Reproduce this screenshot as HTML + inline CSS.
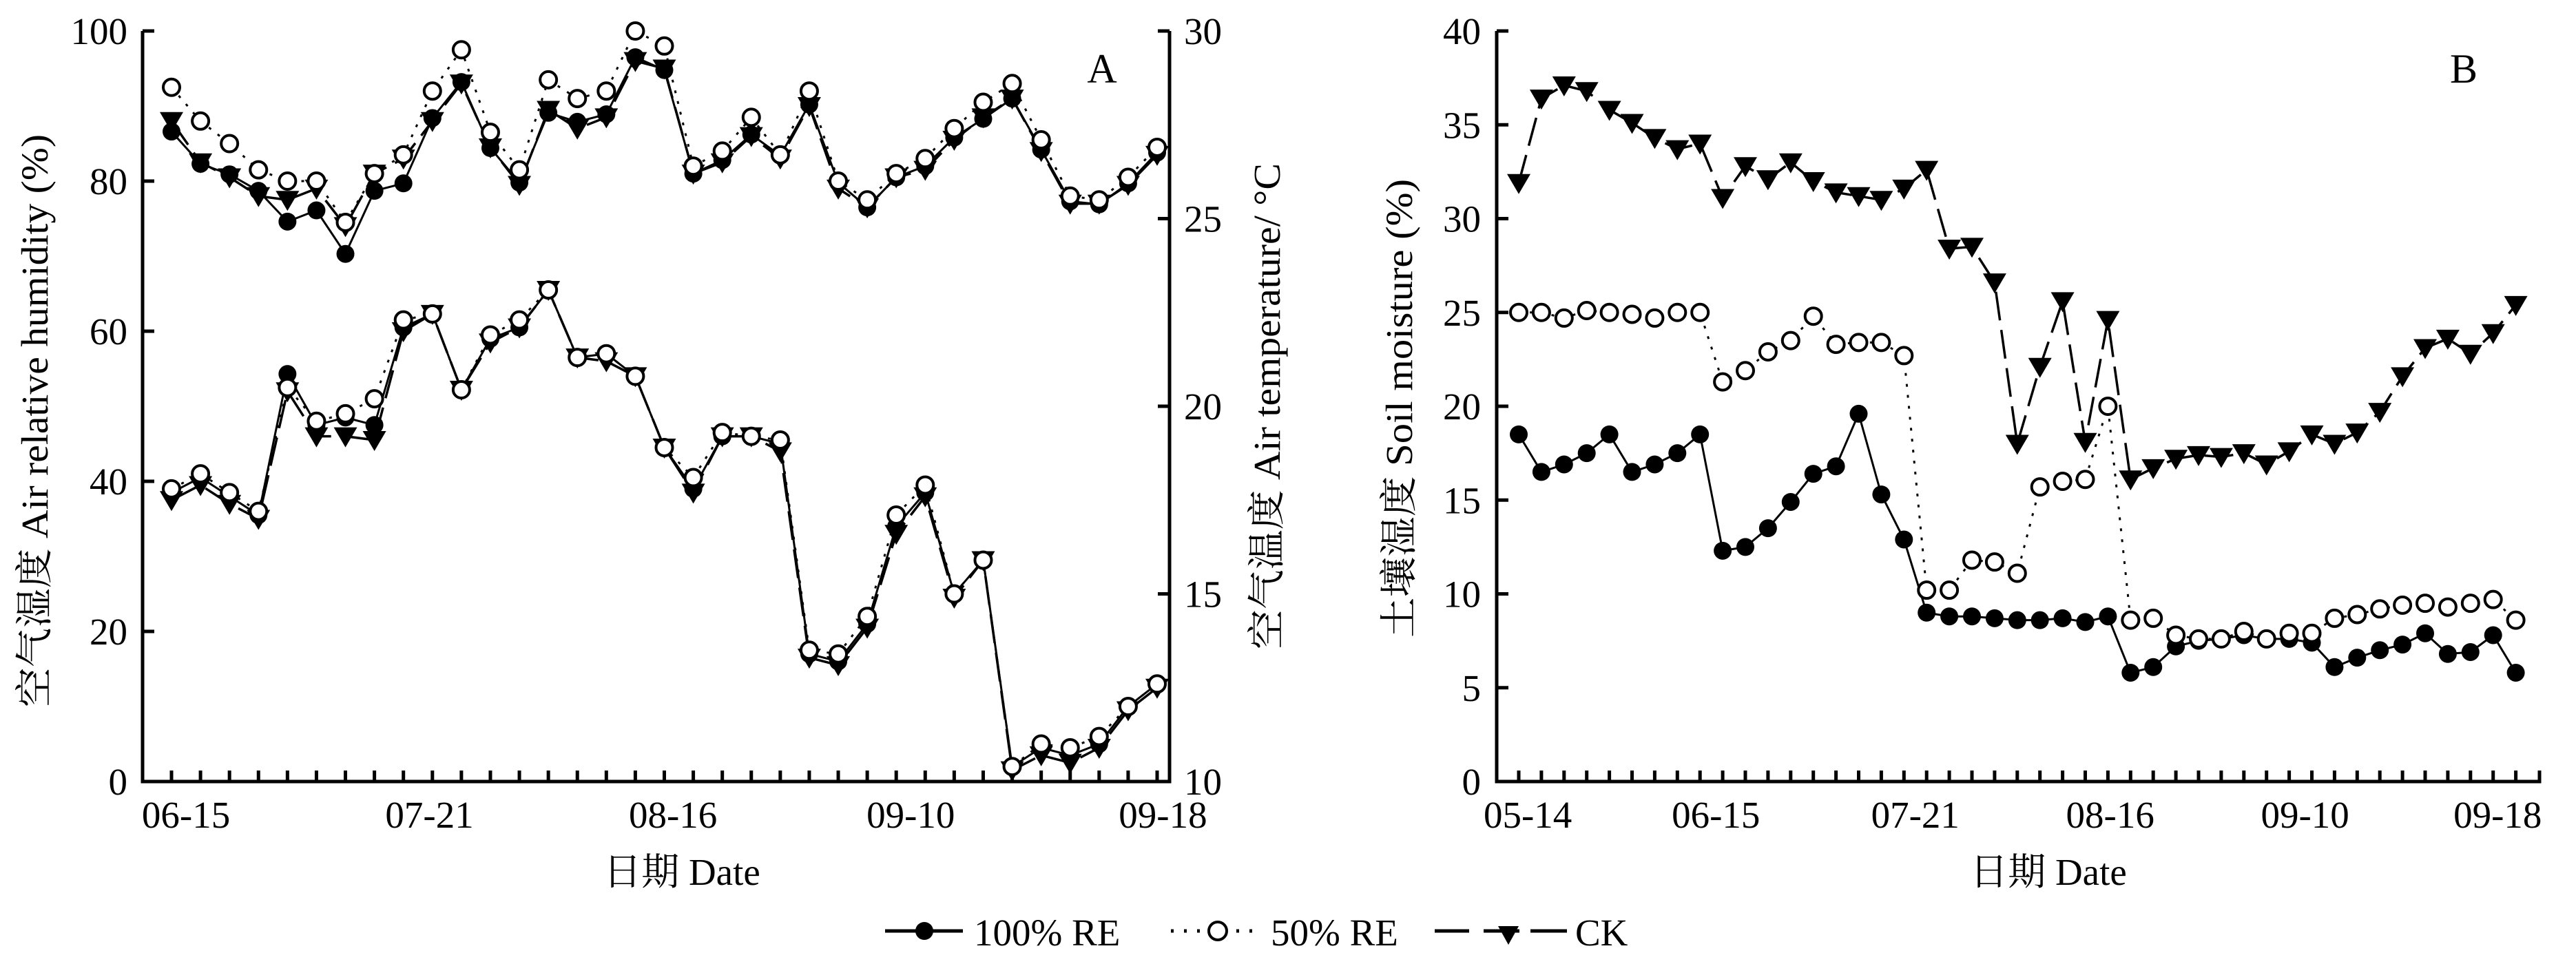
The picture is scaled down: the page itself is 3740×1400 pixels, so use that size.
<!DOCTYPE html>
<html><head><meta charset="utf-8"><style>
html,body{margin:0;padding:0;background:#fff;}
svg{display:block;}
svg text{font-family:"Liberation Serif","Noto Serif CJK SC",serif;}
</style></head><body>
<svg id="chart" width="3740" height="1400" viewBox="0 0 3740 1400" xmlns="http://www.w3.org/2000/svg">
<rect width="3740" height="1400" fill="#fff"/>
</svg>
<script>
// Panel A data
const rhRE100 = [86.6,82.3,80.9,78.7,74.6,76.1,70.3,78.7,79.7,88.4,93.2,84.4,79.8,89.1,87.9,88.9,96.5,94.8,81,82.8,86.2,83.4,90.2,79.8,76.5,80.5,82,85.8,88.3,91,84.2,77.3,76.9,79.7,83.8];
const rhRE50 = [92.5,88,85,81.5,80,80,74.5,81,83.5,92,97.5,86.5,81.5,93.5,91,92,100,98,82,84,88.5,83.5,92,80,77.5,81,83,87,90.5,93,85.5,78,77.5,80.5,84.5];
const rhCK = [88,82.5,80.5,78,77.5,79,74,81,83,88,93,84.5,79.5,89.5,87,88.5,96,95,81,82.5,86,83,90,79,76.5,80.5,81.5,85.5,88.5,91,84,77,77,79.5,83.5];
const tRE100 = [17.7,18.1,17.6,17.1,20.86,19.5,19.7,19.5,22.1,22.46,20.44,21.8,22.1,23.1,21.3,21.4,20.8,18.9,17.8,19.2,19.2,19.0,13.4,13.2,14.2,16.8,17.7,15.0,15.9,10.4,10.9,10.7,11.0,12.0,12.6];
const tRE50 = [17.8,18.2,17.7,17.2,20.5,19.6,19.8,20.2,22.3,22.46,20.44,21.9,22.3,23.1,21.3,21.4,20.8,18.9,18.1,19.3,19.2,19.1,13.5,13.4,14.4,17.1,17.9,15.0,15.9,10.4,11.0,10.9,11.2,12.0,12.6];
const tCK = [17.5,17.9,17.4,17.0,20.4,19.2,19.2,19.1,22.0,22.46,20.44,21.7,22.1,23.1,21.3,21.2,20.8,18.9,17.7,19.2,19.2,18.8,13.3,13.1,14.1,16.6,17.6,14.9,15.9,10.3,10.7,10.5,10.9,11.9,12.5];
const xLabelsA = ["06-15","07-21","08-16","09-10","09-18"];
const xLabelPosA = [0.5,8.9,17.3,25.5,34.2];
const rhTicks = [0,20,40,60,80,100];
const tTicks = [10,15,20,25,30];
// Panel B data
const smRE100 = [18.5,16.5,16.9,17.5,18.5,16.5,16.9,17.5,18.5,12.3,12.5,13.5,14.9,16.4,16.8,19.6,15.3,12.9,9.0,8.8,8.8,8.7,8.6,8.6,8.7,8.5,8.8,5.8,6.1,7.2,7.5,7.6,7.8,7.6,7.6,7.4,6.1,6.6,7.0,7.3,7.9,6.8,6.9,7.8,5.8];
const smRE50 = [25,25,24.7,25.1,25,24.9,24.7,25,25,21.3,21.9,22.9,23.5,24.8,23.3,23.4,23.4,22.7,10.2,10.2,11.8,11.7,11.1,15.7,16,16.1,20,8.6,8.7,7.8,7.6,7.6,8,7.6,7.9,7.9,8.7,8.9,9.2,9.4,9.5,9.3,9.5,9.7,8.6];
const smCK = [31.9,36.4,37.1,36.8,35.8,35.1,34.3,33.7,34.0,31.1,32.8,32.1,33,32,31.4,31.2,31,31.6,32.6,28.4,28.5,26.6,18,22.1,25.6,18.1,24.6,16.1,16.7,17.2,17.4,17.3,17.5,16.9,17.6,18.5,18.0,18.6,19.7,21.6,23.1,23.6,22.8,23.9,25.4];
const xLabelsB = ["05-14","06-15","07-21","08-16","09-10","09-18"];
const xLabelPosB = [0.4,8.7,17.5,26.1,34.7,43.2];
const smTicks = [0,5,10,15,20,25,30,35,40];

const NS="http://www.w3.org/2000/svg";
const svg=document.getElementById('chart');
function mk(tag,attrs,parent){const e=document.createElementNS(NS,tag);for(const k in attrs)e.setAttribute(k,attrs[k]);(parent||svg).appendChild(e);return e;}

const Y0=1135;
const xA=i=>249+i*(1680-249)/34;
const yRH=v=>Y0-v*10.9;
const yT=t=>Y0-(t-10)*54.5;
const xB=i=>2205+i*32.9;
const yB=v=>Y0-v*27.25;

function drawSeries(vals,xf,yf,kind,name,g){
  const pts=vals.map((v,i)=>xf(i).toFixed(1)+','+yf(v).toFixed(1)).join(' ');
  const line=mk('polyline',{points:pts,fill:'none',stroke:'#000','stroke-width':kind==='ck'?3.5:3},g);
  if(kind==='open')line.setAttribute('stroke-dasharray','4 12');
  if(kind==='ck')line.setAttribute('stroke-dasharray','42 14');
  
  
  vals.forEach((v,i)=>{
    const x=xf(i),y=yf(v);let m;
    if(kind==='filled')m=mk('circle',{cx:x,cy:y,r:13,fill:'#000'},g);
    else if(kind==='open')m=mk('circle',{cx:x,cy:y,r:12,fill:'#fff',stroke:'#000','stroke-width':4},g);
    else m=mk('polygon',{points:`${x-17},${y-13} ${x+17},${y-13} ${x},${y+16}`,fill:'#000'},g);
    
    
  });
}

function text(str,attrs,name,g){const t=mk('text',Object.assign({'font-size':55,fill:'#000','font-family':'Liberation Serif, Noto Serif CJK SC, serif'},attrs),g);t.textContent=str;return t;}

// ---------- Panel A ----------
const gA=mk('g',{});


mk('path',{d:`M207,45 V${Y0} H1698 V45`,fill:'none',stroke:'#000','stroke-width':5},gA);
rhTicks.forEach(v=>{
  mk('line',{x1:207,x2:224,y1:yRH(v),y2:yRH(v),stroke:'#000','stroke-width':5},gA);
  text(String(v),{x:185,y:yRH(v)+19,'text-anchor':'end'},'y-tick-label-rh',gA);
});
tTicks.forEach(t=>{
  mk('line',{x1:1681,x2:1698,y1:yT(t),y2:yT(t),stroke:'#000','stroke-width':5},gA);
  text(String(t),{x:1719,y:yT(t)+19},'y-tick-label-temp',gA);
});
for(let i=0;i<35;i++)mk('line',{x1:xA(i),x2:xA(i),y1:Y0,y2:Y0-16,stroke:'#000','stroke-width':5},gA);
xLabelsA.forEach((l,k)=>text(l,{x:xA(xLabelPosA[k]),y:1202,'text-anchor':'middle'},'x-tick-label',gA));
text('日期 Date',{x:990,y:1285,'text-anchor':'middle'},'x-axis-title',gA);
text('空气湿度 Air relative humidity (%)',{x:0,y:0,transform:'translate(69,611) rotate(-90)','text-anchor':'middle',textLength:832,lengthAdjust:'spacingAndGlyphs'},'y-axis-title-left',gA);
text('空气温度 Air temperature/ °C',{x:0,y:0,transform:'translate(1858,590) rotate(-90)','text-anchor':'middle',textLength:706,lengthAdjust:'spacingAndGlyphs'},'y-axis-title-right',gA);
text('A',{x:1600,y:120,'text-anchor':'middle','font-size':60},'panel-label-a',gA);
drawSeries(tRE100,xA,yT,'filled','temp-100re',gA);
drawSeries(tCK,xA,yT,'ck','temp-ck',gA);
drawSeries(tRE50,xA,yT,'open','temp-50re',gA);
drawSeries(rhRE100,xA,yRH,'filled','rh-100re',gA);
drawSeries(rhCK,xA,yRH,'ck','rh-ck',gA);
drawSeries(rhRE50,xA,yRH,'open','rh-50re',gA);

// ---------- Panel B ----------
const gB=mk('g',{});


mk('path',{d:`M2173,45 V${Y0} H3687 V${Y0-16}`,fill:'none',stroke:'#000','stroke-width':5},gB);
smTicks.forEach(v=>{
  mk('line',{x1:2173,x2:2190,y1:yB(v),y2:yB(v),stroke:'#000','stroke-width':5},gB);
  text(String(v),{x:2150,y:yB(v)+19,'text-anchor':'end'},'y-tick-label-soil',gB);
});
for(let i=0;i<45;i++)mk('line',{x1:xB(i),x2:xB(i),y1:Y0,y2:Y0-16,stroke:'#000','stroke-width':5},gB);
xLabelsB.forEach((l,k)=>text(l,{x:xB(xLabelPosB[k]),y:1202,'text-anchor':'middle'},'x-tick-label',gB));
text('日期 Date',{x:2974,y:1285,'text-anchor':'middle'},'x-axis-title',gB);
text('土壤湿度 Soil moisture (%)',{x:0,y:0,transform:'translate(2050,593) rotate(-90)','text-anchor':'middle',textLength:666,lengthAdjust:'spacingAndGlyphs'},'y-axis-title-soil',gB);
text('B',{x:3577,y:120,'text-anchor':'middle','font-size':60},'panel-label-b',gB);
drawSeries(smCK,xB,yB,'ck','soil-ck',gB);
drawSeries(smRE100,xB,yB,'filled','soil-100re',gB);
drawSeries(smRE50,xB,yB,'open','soil-50re',gB);

// ---------- Legend ----------
const gL=mk('g',{});


const LY=1352;
const l1=mk('g',{},gL);


mk('line',{x1:1285,x2:1398,y1:LY,y2:LY,stroke:'#000','stroke-width':5},l1);
mk('circle',{cx:1342,cy:LY,r:13,fill:'#000'},l1);
text('100% RE',{x:1414,y:1373},'legend-label-100re',l1);
const l2=mk('g',{},gL);


mk('line',{x1:1700,x2:1830,y1:LY,y2:LY,stroke:'#000','stroke-width':5,'stroke-dasharray':'4 15'},l2);
mk('circle',{cx:1768,cy:LY,r:13,fill:'#fff',stroke:'#000','stroke-width':4},l2);
text('50% RE',{x:1845,y:1373},'legend-label-50re',l2);
const l3=mk('g',{},gL);


mk('line',{x1:2083,x2:2133,y1:LY,y2:LY,stroke:'#000','stroke-width':5},l3);
mk('line',{x1:2154,x2:2206,y1:LY,y2:LY,stroke:'#000','stroke-width':5},l3);
mk('line',{x1:2222,x2:2275,y1:LY,y2:LY,stroke:'#000','stroke-width':5},l3);
mk('polygon',{points:`2175,1345 2205,1345 2190,1372`,fill:'#000'},l3);
text('CK',{x:2287,y:1373},'legend-label-ck',l3);
</script>
</body></html>
